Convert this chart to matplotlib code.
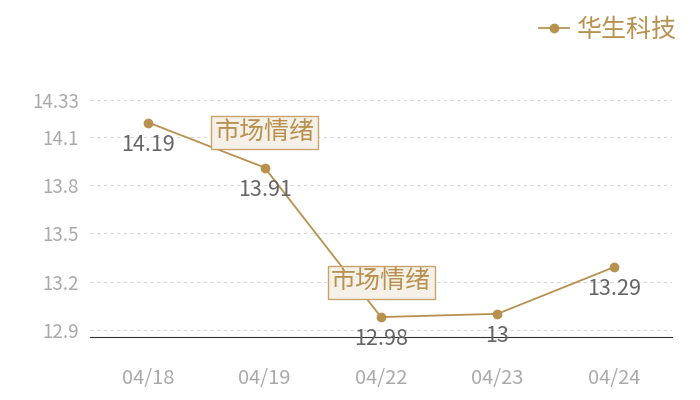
import matplotlib
matplotlib.use('Agg')
import matplotlib.pyplot as plt

plt.rcParams['font.family'] = ['Noto Sans CJK SC', 'DejaVu Sans']

# datos
dates = ['04/18', '04/19', '04/22', '04/23', '04/24']
prices = [14.19, 13.91, 12.98, 13.00, 13.29]
price_labels = ['14.19', '13.91', '12.98', '13', '13.29']
yticks = [12.9, 13.2, 13.5, 13.8, 14.1, 14.33]
ytick_labels = ['12.9', '13.2', '13.5', '13.8', '14.1', '14.33']
events = [1, 2]   # indices con la etiqueta de sentimiento
event_text = '市场情绪'
series_name = '华生科技'

gold = '#b8914f'

fig = plt.figure(figsize=(7, 4), dpi=100)
ax = fig.add_axes([90/700, 1-337/400, 582/700, 237/400])

x = list(range(len(dates)))
ax.plot(x, prices, color=gold, lw=1.3, marker='o', ms=6, label=series_name, zorder=3)

for i, (p, lab) in enumerate(zip(prices, price_labels)):
    ax.annotate(lab, (i, p), xytext=(0, -22), textcoords='offset pixels',
                ha='center', va='center', fontsize=15.5, color='#666666', zorder=4)

for i in events:
    ax.annotate(event_text, (i, prices[i]), xytext=(0, 35), textcoords='offset pixels',
                ha='center', va='center', fontsize=18, color=gold, zorder=5,
                bbox=dict(boxstyle='square,pad=0.14', fc='#f5f0e8', ec='#c8a46c', lw=1))

ax.set_xlim(-0.5, len(dates) - 0.5)
ax.set_ylim(12.856, 14.33)
ax.set_xticks(x)
ax.set_xticklabels(dates)
ax.set_yticks(yticks)
ax.set_yticklabels(ytick_labels)
ax.tick_params(axis='x', length=0, pad=22, labelsize=14.5, colors='#aaaaaa')
ax.tick_params(axis='y', length=0, pad=8, labelsize=13.5, colors='#aaaaaa')
ax.grid(axis='y', ls=(0, (3, 3)), color='#d8d8d8', lw=0.8)
for s in ['top', 'right', 'left']:
    ax.spines[s].set_visible(False)
ax.spines['bottom'].set_color('#333333')
ax.spines['bottom'].set_linewidth(0.8)
ax.set_facecolor('none')

leg = fig.legend(loc='upper right', bbox_to_anchor=(0.999, 1.015), frameon=False,
                 fontsize=18, handlelength=1.2, handletextpad=0.3)
for t in leg.get_texts():
    t.set_color(gold)

fig.savefig('out.png', dpi=100)
